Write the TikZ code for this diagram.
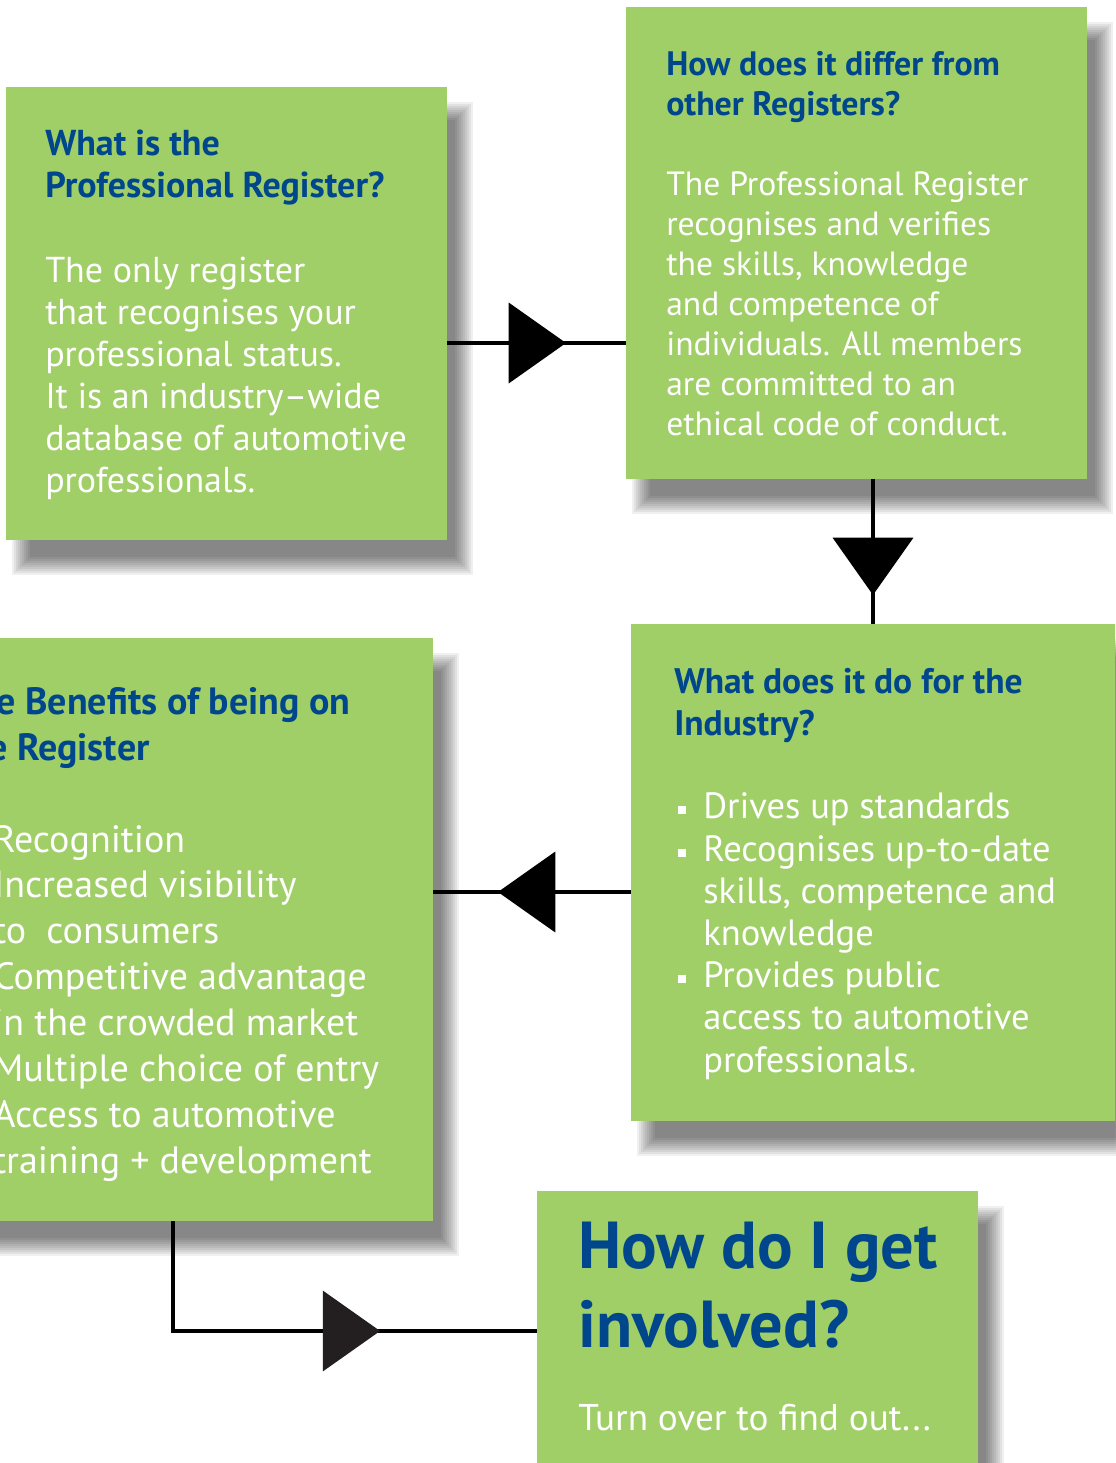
\documentclass[tikz,border=0pt]{standalone}
\usepackage{fontspec}
\setmainfont{PT Sans}
\usetikzlibrary{decorations.markings,arrows.meta}
\definecolor{boxgreen}{HTML}{A0CE67}
\definecolor{titleblue}{HTML}{00468C}
\definecolor{tipgray}{HTML}{231F20}
\pgfdeclarelayer{shadowlayer}
\pgfsetlayers{shadowlayer,main}
\newcommand\dropshade[1]{%
  \begin{pgfonlayer}{shadowlayer}
  \foreach \e in {10,8,...,-8}
    \fill[black, fill opacity=0.057] ([shift={({16-\e},{25-\e})}]#1.north west) rectangle ([shift={({16+\e},{25+\e})}]#1.south east);
  \end{pgfonlayer}}
\tikzset{
  panel/.style={fill=boxgreen, draw=none, anchor=north west, inner sep=0pt, outer sep=0pt},
  ttl/.style={anchor=base west, inner sep=0pt, text=titleblue, font=\bfseries\fontsize{#1}{#1}\selectfont},
  txt/.style={anchor=base west, inner sep=0pt, text=white, font=\fontsize{#1}{#1}\selectfont},
  sqbullet/.style={fill=white, draw=none, inner sep=0pt, minimum size=6.6pt},
  conn/.style={draw=black, line width=3pt},
  midtip/.style 2 args={postaction={decorate}, decoration={markings,
     mark=at position #1 with {\arrow[#2]{Triangle[length=43pt,width=60pt]}}}}
}
\begin{document}
\begin{tikzpicture}[x=0.75pt,y=-0.75pt]
\useasboundingbox (0,0) rectangle (1115,1463);
\begin{pgfonlayer}{shadowlayer}
\fill[white] (0,0) rectangle (1115,1463);
\end{pgfonlayer}
\clip (0,0) rectangle (1115,1463);

% panels
\node[panel, minimum width=330.75pt, minimum height=339.75pt] (A) at (6,87) {};
\node[panel, minimum width=345.75pt, minimum height=354pt] (B) at (626,7) {};
\node[panel, minimum width=378pt, minimum height=372.75pt] (C) at (631,624) {};
\node[panel, minimum width=347.25pt, minimum height=437.25pt] (D) at (-30,638) {};
\node[panel, minimum width=330.75pt, minimum height=224.25pt] (E) at (537,1191) {};
\dropshade{A}\dropshade{B}\dropshade{C}\dropshade{D}\dropshade{E}

% panel A text
\node[ttl=27] (at1) at (45,155) {What is the};
\node[ttl=27] (at2) at (45,197) {Professional Register?};
\foreach \t [count=\i from 0] in {The only register, that recognises your, professional status., {It is an industry–wide}, database of automotive, professionals.}
  \node[txt=27] (ab\i) at (45,{282+42*\i}) {\t};

% panel B text
\node[ttl=25.4] (bt1) at (666,75) {How does it differ from};
\node[ttl=25.4] (bt2) at (666,115) {other Registers?};
\foreach \t [count=\i from 0] in {The Professional Register, recognises and verifies, {the skills, knowledge}, and competence of, individuals. All members, are committed to an, ethical code of conduct.}
  \node[txt=25.2] (bb\i) at (666,{195+40*\i}) {\t};

% panel C text
\node[ttl=26.6] (ct1) at (674,693) {What does it do for the};
\node[ttl=26.6] (ct2) at (674,735) {Industry?};
\foreach \t/\y [count=\i from 0] in {Drives up standards/818, Recognises up-to-date/861, {skills, competence and}/903, knowledge/945, Provides public/987, access to automotive/1029, professionals./1072}
  \node[txt=27.4] (cb\i) at (703,\y) {\t};
\foreach \y [count=\i] in {810,853,979}
  \node[sqbullet] (cs\i) at (682,\y) {};

% panel D text
\node[ttl=28.5] (dt1) at (-46,714) {The Benefits of being on};
\node[ttl=28.5] (dt2) at (-46,760) {the Register};
\foreach \t [count=\i from 0] in {Recognition, Increased visibility, to~~consumers, Competitive advantage, in the crowded market, Multiple choice of entry, Access to automotive, training + development}
  \node[txt=28.5] (db\i) at (-7,{852+45.9*\i}) {\t};

% panel E text
\node[ttl=49.8] (et1) at (578,1268) {How do I get};
\node[ttl=49.8] (et2) at (578,1347) {involved?};
\node[txt=27.9] (eb1) at (578,1430) {Turn over to find out...};

% connectors
\coordinate (ab) at (0,343);
\coordinate (bc) at (873,0);
\coordinate (cd) at (0,892);
\coordinate (de) at (173,1331);
\draw[conn, midtip={0.665}{black}] (A.east |- ab) -- (B.west |- ab);
\draw[conn, midtip={0.80}{black}] (B.south -| bc) -- (C.north -| bc);
\draw[conn, midtip={0.672}{black}] (C.west |- cd) -- (D.east |- cd);
\draw[conn, midtip={0.669}{tipgray}] (D.south -| de) -- (de) -- (E.west |- de);
\end{tikzpicture}
\end{document}
